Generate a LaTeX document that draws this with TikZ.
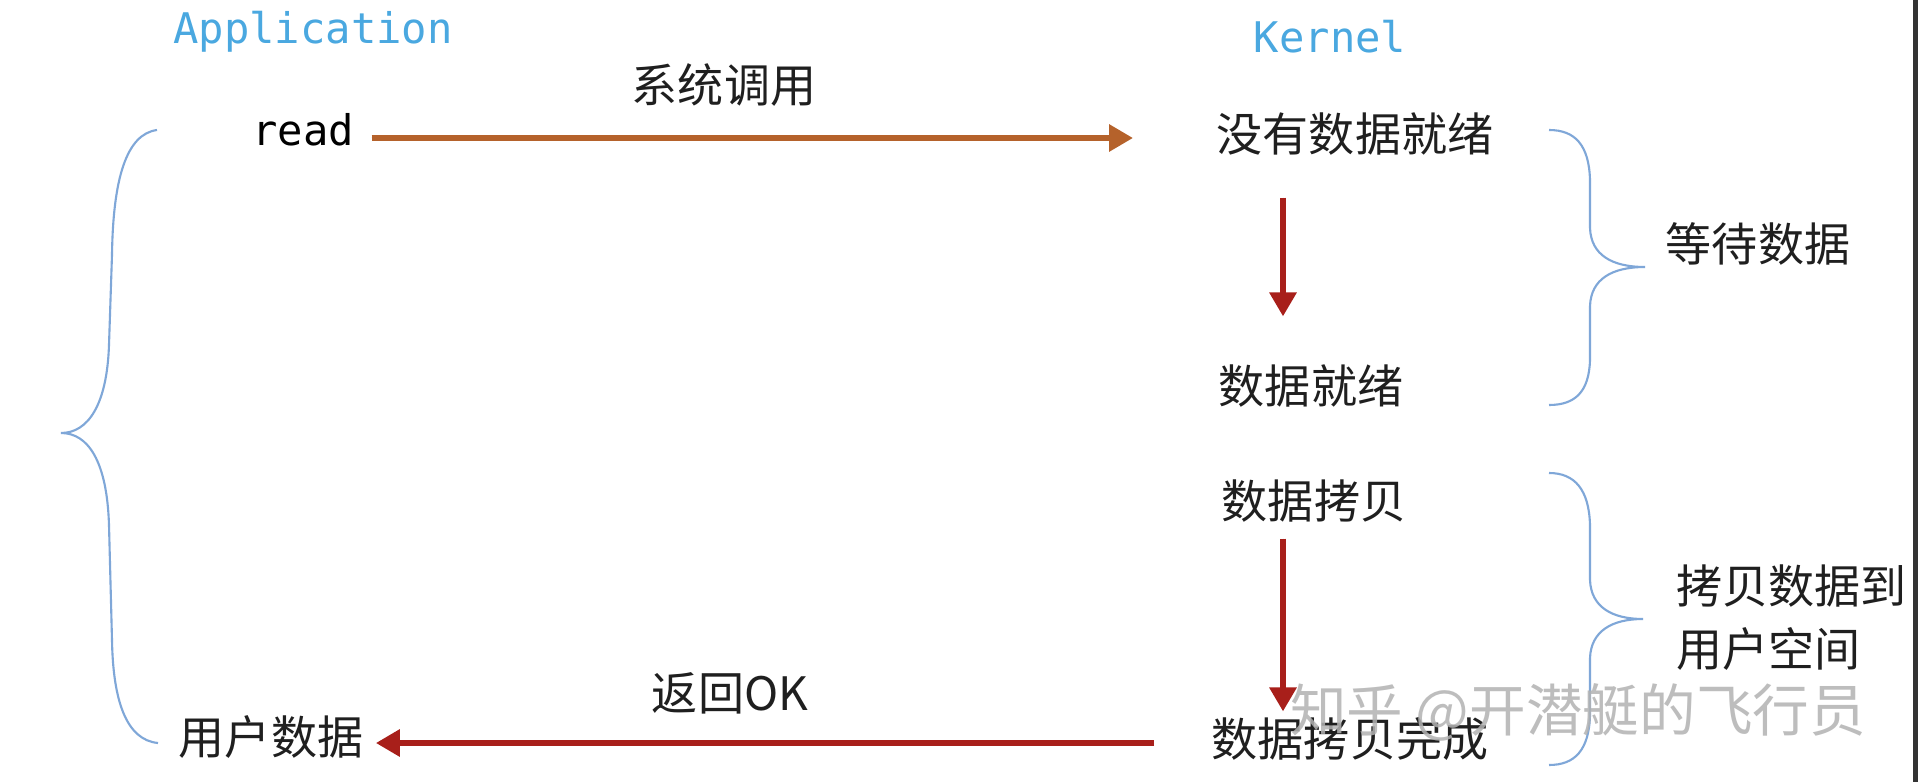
\documentclass[tikz,border=0pt]{standalone}
\usepackage{fontspec}
\setmainfont{Noto Sans CJK SC}
\newfontfamily\monofont{DejaVu Sans Mono}
\usetikzlibrary{arrows.meta, calc}

\definecolor{titleblue}{HTML}{4AA8E0}
\definecolor{braceblue}{HTML}{7FA7D8}
\definecolor{callorange}{HTML}{B5622B}
\definecolor{retred}{HTML}{A81F1A}

\begin{document}
\begin{tikzpicture}[x=0.01cm, y=-0.01cm,
    lbl/.style={inner sep=0pt, text height=0.83em, text depth=0.07em, text=black!88,
        font=\fontsize{13.1}{17.9}\selectfont},
    code/.style={inner sep=0pt, font=\monofont\fontsize{12}{14}\selectfont},
    title/.style={code, text=titleblue},
    call/.style={line width=1.85pt, -{Triangle[width=0.26cm, length=0.24cm]}},
    curly/.style={line width=0.6pt, draw=braceblue}]
    \fill[white] (0, 0) rectangle (1918, 782);
    \useasboundingbox (0, 0) rectangle (1918, 782);
    \fill[black!80] (1913, 0) rectangle (1918, 782);

    % column heads
    \node[title] (app) at (313, 32) {Application};
    \node[title] (kernel) at (1330, 37) {Kernel};

    % application side
    \node[code] (read) at (303, 130) {read};
    \node[lbl] (user) at (271, 741) {用户数据};

    % kernel side
    \node[lbl] (nodata) at (1355, 138) {没有数据就绪};
    \node[lbl] (ready) at (1311, 390) {数据就绪};
    \node[lbl] (copy) at (1314, 505) {数据拷贝};
    \node[lbl] (done) at (1350, 743) {数据拷贝完成};
    \coordinate (col) at (1283, 0);

    % phases
    \node[lbl] (wait) at (1758, 248) {等待数据};
    \node[lbl, anchor=west, align=left, text height=, text depth=] (tocopy) at (1676, 618) {拷贝数据到\\用户空间};

    % arrow labels
    \node[lbl] (syscall) at (724, 89) {系统调用};
    \node[lbl] (ret) at (730, 697) {返回OK};

    \draw[call, draw=callorange, fill=callorange, shorten <=0.17cm, shorten >=0.83cm]
        (read.east |- nodata.west) -- (nodata.west);
    \draw[call, draw=retred, fill=retred, shorten <=0.43cm, shorten >=0.57cm]
        (col |- nodata.south) -- (col |- ready.north);
    \draw[call, draw=retred, fill=retred, shorten <=0.17cm, shorten >=0.15cm]
        (col |- copy.south) -- (col |- done.north);
    \draw[call, draw=retred, fill=retred, shorten <=0.57cm, shorten >=0.12cm]
        (done.west) -- (user.east |- done.west);

    % braces
    \draw[curly]
    (157, 130) .. controls (126, 134) and (113, 180) .. (112, 255) -- (109, 345)
    .. controls (107, 405) and (88, 433) .. (61, 433)
    .. controls (88, 433) and (107, 461) .. (109, 525) -- (112, 640)
    .. controls (113, 700) and (126, 740) .. (158, 743);
    \draw[curly]
    (1549, 130) .. controls (1575, 130) and (1589, 145) .. (1590, 180) -- (1590, 228)
    .. controls (1591, 255) and (1612, 267) .. (1645, 267)
    .. controls (1612, 267) and (1591, 279) .. (1590, 306) -- (1590, 360)
    .. controls (1589, 392) and (1575, 405) .. (1549, 405);
    \draw[curly]
    (1549, 473) .. controls (1575, 473) and (1589, 490) .. (1590, 525) -- (1590, 580)
    .. controls (1591, 607) and (1612, 619) .. (1643, 619)
    .. controls (1612, 619) and (1591, 631) .. (1590, 658) -- (1590, 715)
    .. controls (1589, 750) and (1575, 765) .. (1549, 765);

    % watermark
    \node[inner sep=0pt, text=black!30, opacity=0.85, font=\fontsize{16.1}{19}\selectfont] (mark) at (1578, 712) {知乎 @开潜艇的飞行员};
\end{tikzpicture}
\end{document}
